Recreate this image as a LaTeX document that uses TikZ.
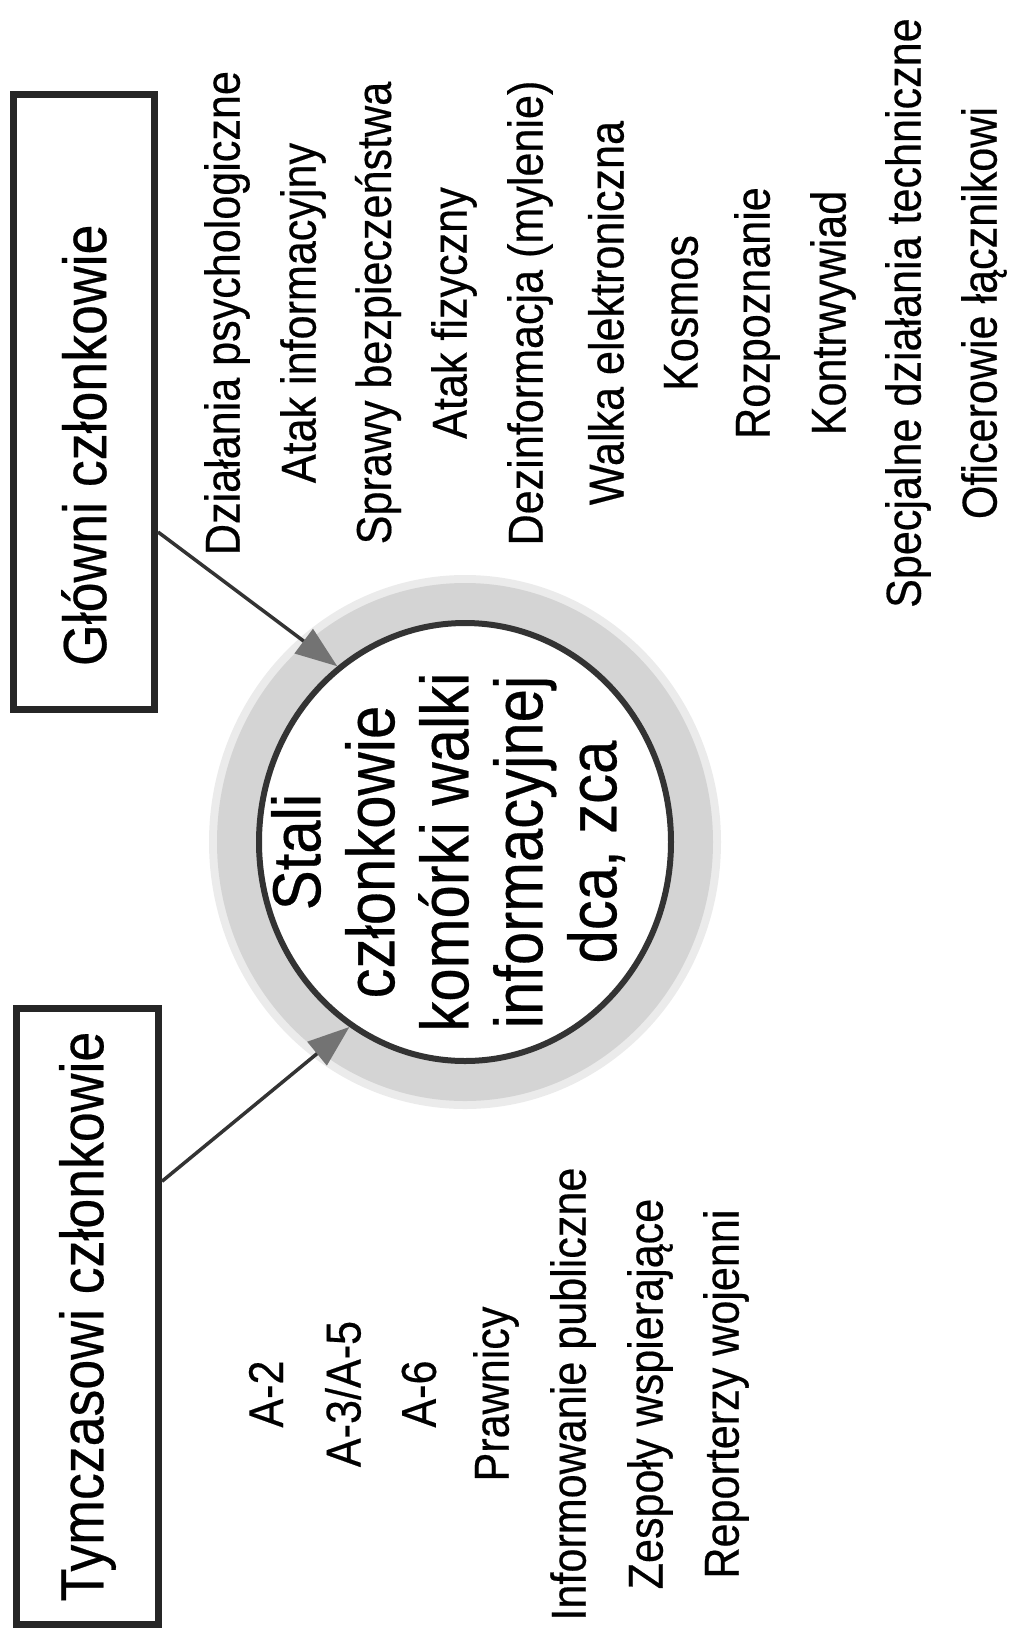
\documentclass[tikz,border=0pt]{standalone}
\usepackage{fontspec}
\setmainfont{Liberation Sans}[FakeStretch=0.88,FakeBold=0.4]
\usetikzlibrary{arrows.meta,shapes.geometric,calc}

\begin{document}
\begin{tikzpicture}[x=1pt,y=-1pt,
    member/.style={draw=black!85, line width=7pt, inner sep=0pt, fill=white, font=\fontsize{61}{70}\selectfont},
    role/.style={rotate=90, inner sep=0pt, font=\fontsize{49}{55}\selectfont},
    feed/.style={draw=black!80, line width=3.5pt, -{Triangle[length=42pt,width=30pt,color=black!55,fill=black!55]}}]
    \useasboundingbox (0,0) rectangle (1016,1631);
    % halo and cell
    \fill [black!8] (465,842) ellipse [x radius=256pt, y radius=267pt];
    \fill [black!17] (465,842) ellipse [x radius=248pt, y radius=259pt];
    \node [ellipse, draw=black!80, line width=6pt, fill=white, inner sep=0pt, minimum width=412pt, minimum height=438pt] (cell) at (465,842) {};
    \node [rotate=90, align=center, inner sep=0pt, font=\fontsize{68}{74}\selectfont] (celltxt) at (448,852) {Stali\\członkowie\\komórki walki\\informacyjnej\\dca, zca};
    % boxes
    \node [member, minimum width=141pt, minimum height=615pt] (glowni) at (84,402) {\rotatebox{90}{\makebox[600pt][l]{\hspace{36pt}Główni członkowie}}};
    \node [member, minimum width=142pt, minimum height=616pt] (tymcz) at (87.5,1316.5) {\rotatebox{90}{Tymczasowi członkowie}};
    \draw [feed] ($(glowni.north east)!0.709!(glowni.south east)$) -- (cell.126);
    \draw [feed] ($(tymcz.north east)!0.283!(tymcz.south east)$) -- (cell.238);
    % main members
    \node [role] (g1) at (227,313) {Działania psychologiczne};
    \node [role] (g2) at (303,313) {Atak informacyjny};
    \node [role] (g3) at (378,313) {Sprawy bezpieczeństwa};
    \node [role] (g4) at (454,313) {Atak fizyczny};
    \node [role] (g5) at (530,313) {Dezinformacja (mylenie)};
    \node [role] (g6) at (606,313) {Walka elektroniczna};
    \node [role] (g7) at (681,313) {Kosmos};
    \node [role] (g8) at (757,313) {Rozpoznanie};
    \node [role] (g9) at (833,313) {Kontrwywiad};
    \node [role] (g10) at (908,313) {Specjalne działania techniczne};
    \node [role] (g11) at (984,313) {Oficerowie łącznikowi};
    % temporary members
    \node [role] (t1) at (266,1394) {A-2};
    \node [role] (t2) at (343,1394) {A-3/A-5};
    \node [role] (t3) at (419,1394) {A-6};
    \node [role] (t4) at (496,1394) {Prawnicy};
    \node [role] (t5) at (573,1394) {Informowanie publiczne};
    \node [role] (t6) at (650,1394) {Zespoły wspierające};
    \node [role] (t7) at (726,1394) {Reporterzy wojenni};
\end{tikzpicture}
\end{document}
